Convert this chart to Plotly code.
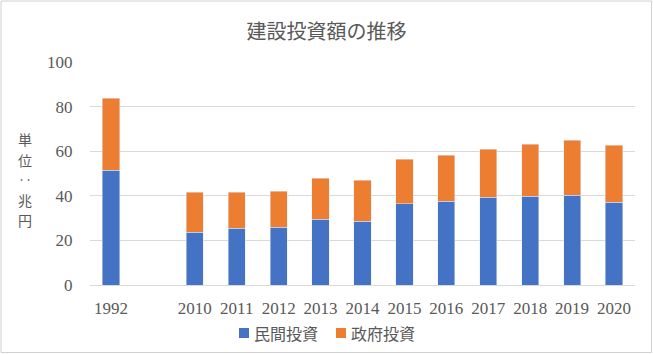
import plotly.graph_objects as go

categories = ["1992", " ", "2010", "2011", "2012", "2013", "2014", "2015", "2016", "2017", "2018", "2019", "2020"]
private_inv = [51.5, None, 23.7, 25.5, 25.9, 29.5, 28.6, 36.4, 37.6, 39.4, 39.8, 40.3, 37.1]
government_inv = [32.3, None, 17.9, 16.1, 16.2, 18.4, 18.4, 20.0, 20.6, 21.5, 23.4, 24.7, 25.6]
unit_chars = ["単", "位", "‥", "兆", "円"]
series_names = ["民間投資", "政府投資"]
series_colors = ["#4472C4", "#ED7D31"]

serif = "Liberation Serif, Times New Roman, serif"
cjk = "Noto Sans CJK JP, sans-serif"

fig = go.Figure()
fig.add_trace(go.Bar(x=categories, y=private_inv, name=series_names[0], marker_color=series_colors[0], width=0.41))
fig.add_trace(go.Bar(x=categories, y=government_inv, name=series_names[1], marker_color=series_colors[1], width=0.41))

W, H = 653, 354
L, R, T, B = 90, 18, 62, 69
pw, ph = W - L - R, H - T - B

def px(xp):
    return (xp - L) / pw

def py(yp):
    return (T + ph - yp) / ph

fig.update_layout(
    barmode="stack",
    width=W, height=H,
    margin=dict(l=L, r=R, t=T, b=B, autoexpand=False),
    paper_bgcolor="white", plot_bgcolor="white",
    title=dict(text="建設投資額の推移", x=0.5, xanchor="center", y=1 - 32 / H, yanchor="middle",
               font=dict(family=cjk, size=20, color="#595959")),
    xaxis=dict(type="category", categoryorder="array", categoryarray=categories,
               tickfont=dict(family=serif, size=17, color="#595959"),
               showgrid=False, showline=True, linecolor="#d9d9d9", linewidth=1,
               ticks="outside", ticklen=8, tickcolor="rgba(0,0,0,0)"),
    yaxis=dict(range=[0, 100], dtick=20, tickfont=dict(family=serif, size=17, color="#595959"),
               showgrid=True, gridcolor="#d9d9d9", gridwidth=1, zeroline=False, showline=False,
               ticks="outside", ticklen=13, tickcolor="rgba(0,0,0,0)"),
    bargap=0.59,
    showlegend=False,
)

ys = [139, 159.5, 179, 199.5, 220]
for ch, yy in zip(unit_chars, ys):
    fig.add_annotation(text=ch, xref="paper", yref="paper", x=px(25), y=py(yy),
                       xanchor="center", yanchor="middle", showarrow=False,
                       font=dict(family=cjk, size=14, color="#595959"))

# custom legend
leg_sq_x = [239, 336]
for name, color, sx in zip(series_names, series_colors, leg_sq_x):
    fig.add_shape(type="rect", xref="paper", yref="paper", x0=px(sx), x1=px(sx + 10),
                  y0=py(338), y1=py(328), line=dict(width=0), fillcolor=color)
    fig.add_annotation(text=name, xref="paper", yref="paper", x=px(sx + 13), y=py(333),
                       xanchor="left", yanchor="middle", showarrow=False,
                       font=dict(family=cjk, size=16, color="#595959"))

fig.add_shape(type="rect", xref="paper", yref="paper",
              x0=px(1), x1=px(W - 1.5), y0=py(H - 1.5), y1=py(1),
              line=dict(color="#d0d0d0", width=1), fillcolor="rgba(0,0,0,0)", layer="below")

fig.write_html("out.html")
